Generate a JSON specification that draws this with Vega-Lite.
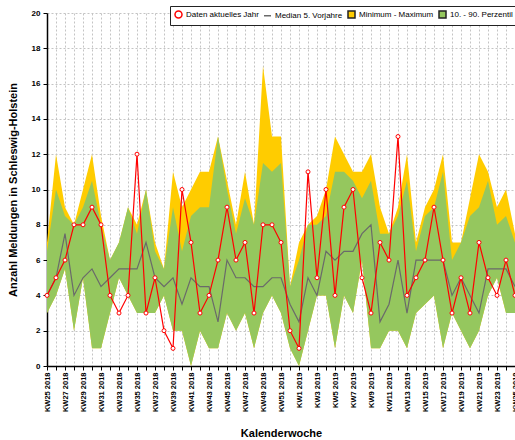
{
  "$schema": "https://vega.github.io/schema/vega-lite/v6.json",
  "width": 468,
  "height": 353,
  "autosize": "none",
  "padding": {"left": 47, "top": 13, "right": 0, "bottom": 74},
  "background": "white",
  "config": {"view": {"stroke": null}, "font": "Liberation Sans"},
  "data": {"values": [
    {"week": "KW25 2018", "current": 4, "median": 4, "min": 3, "p10": 3, "p90": 6.5, "max": 7},
    {"week": "KW26 2018", "current": 5, "median": 5, "min": 4, "p10": 4, "p90": 10, "max": 12},
    {"week": "KW27 2018", "current": 6, "median": 7.5, "min": 5.5, "p10": 5.5, "p90": 8.5, "max": 9},
    {"week": "KW28 2018", "current": 8, "median": 4, "min": 2, "p10": 2, "p90": 8, "max": 8},
    {"week": "KW29 2018", "current": 8, "median": 5, "min": 5, "p10": 5, "p90": 9, "max": 10},
    {"week": "KW30 2018", "current": 9, "median": 5.5, "min": 1, "p10": 1, "p90": 10.5, "max": 12},
    {"week": "KW31 2018", "current": 8, "median": 4.5, "min": 1, "p10": 1, "p90": 8, "max": 8.5},
    {"week": "KW32 2018", "current": 4, "median": 5, "min": 3, "p10": 3, "p90": 6, "max": 6},
    {"week": "KW33 2018", "current": 3, "median": 5.5, "min": 5, "p10": 5, "p90": 7, "max": 7},
    {"week": "KW34 2018", "current": 4, "median": 5.5, "min": 4, "p10": 4, "p90": 9, "max": 9},
    {"week": "KW35 2018", "current": 12, "median": 5.5, "min": 3, "p10": 3, "p90": 7.5, "max": 8},
    {"week": "KW36 2018", "current": 3, "median": 7, "min": 3, "p10": 3, "p90": 10, "max": 10},
    {"week": "KW37 2018", "current": 5, "median": 5, "min": 3, "p10": 3, "p90": 6.5, "max": 7},
    {"week": "KW38 2018", "current": 2, "median": 4.5, "min": 4, "p10": 4, "p90": 5.5, "max": 5.5},
    {"week": "KW39 2018", "current": 1, "median": 5, "min": 2, "p10": 2, "p90": 9, "max": 11},
    {"week": "KW40 2018", "current": 10, "median": 3.5, "min": 2, "p10": 2, "p90": 6.5, "max": 9},
    {"week": "KW41 2018", "current": 7, "median": 5, "min": 0, "p10": 0, "p90": 8.5, "max": 10},
    {"week": "KW42 2018", "current": 3, "median": 4.5, "min": 2, "p10": 2, "p90": 9, "max": 11},
    {"week": "KW43 2018", "current": 4, "median": 4.5, "min": 1, "p10": 1, "p90": 9, "max": 11},
    {"week": "KW44 2018", "current": 6, "median": 2.5, "min": 1, "p10": 1, "p90": 13, "max": 13},
    {"week": "KW45 2018", "current": 9, "median": 6, "min": 3, "p10": 3, "p90": 10, "max": 10.5},
    {"week": "KW46 2018", "current": 6, "median": 5, "min": 2, "p10": 2, "p90": 7.5, "max": 8},
    {"week": "KW47 2018", "current": 7, "median": 5, "min": 3, "p10": 3, "p90": 9.5, "max": 11},
    {"week": "KW48 2018", "current": 3, "median": 4.5, "min": 1, "p10": 1, "p90": 8, "max": 8},
    {"week": "KW49 2018", "current": 8, "median": 4.5, "min": 3, "p10": 3, "p90": 11.5, "max": 17},
    {"week": "KW50 2018", "current": 8, "median": 5, "min": 4, "p10": 4, "p90": 11, "max": 13},
    {"week": "KW51 2018", "current": 7, "median": 5, "min": 3, "p10": 3, "p90": 11.5, "max": 13},
    {"week": "KW52 2018", "current": 2, "median": 3.5, "min": 1, "p10": 1, "p90": 4.5, "max": 4.5},
    {"week": "KW1 2019", "current": 1, "median": 2.5, "min": 0, "p10": 0, "p90": 6, "max": 7},
    {"week": "KW2 2019", "current": 11, "median": 5, "min": 2, "p10": 2, "p90": 8, "max": 8},
    {"week": "KW3 2019", "current": 5, "median": 4, "min": 4, "p10": 4, "p90": 8, "max": 8.5},
    {"week": "KW4 2019", "current": 10, "median": 6.5, "min": 4, "p10": 4, "p90": 8.5, "max": 10},
    {"week": "KW5 2019", "current": 4, "median": 6, "min": 1, "p10": 1, "p90": 11, "max": 13},
    {"week": "KW6 2019", "current": 9, "median": 6.5, "min": 4, "p10": 4, "p90": 11, "max": 12},
    {"week": "KW7 2019", "current": 10, "median": 6.5, "min": 3, "p10": 3, "p90": 10.5, "max": 11},
    {"week": "KW8 2019", "current": 5, "median": 7.5, "min": 6, "p10": 6, "p90": 9.5, "max": 11},
    {"week": "KW9 2019", "current": 3, "median": 8, "min": 1, "p10": 1, "p90": 10.5, "max": 12},
    {"week": "KW10 2019", "current": 7, "median": 2.5, "min": 1, "p10": 1, "p90": 7.5, "max": 9},
    {"week": "KW11 2019", "current": 6, "median": 3.5, "min": 2, "p10": 2, "p90": 7.5, "max": 7.5},
    {"week": "KW12 2019", "current": 13, "median": 6, "min": 2, "p10": 2, "p90": 8.5, "max": 9},
    {"week": "KW13 2019", "current": 4, "median": 3, "min": 1, "p10": 1, "p90": 10.5, "max": 12},
    {"week": "KW14 2019", "current": 5, "median": 6, "min": 3, "p10": 3, "p90": 6.5, "max": 7},
    {"week": "KW15 2019", "current": 6, "median": 6, "min": 3.5, "p10": 3.5, "p90": 8.5, "max": 9},
    {"week": "KW16 2019", "current": 9, "median": 6, "min": 4, "p10": 4, "p90": 9, "max": 10},
    {"week": "KW17 2019", "current": 6, "median": 6, "min": 1, "p10": 1, "p90": 11, "max": 12},
    {"week": "KW18 2019", "current": 3, "median": 4, "min": 3, "p10": 3, "p90": 6, "max": 7},
    {"week": "KW19 2019", "current": 5, "median": 5, "min": 2, "p10": 2, "p90": 7, "max": 7},
    {"week": "KW20 2019", "current": 3, "median": 4, "min": 1, "p10": 1, "p90": 8.5, "max": 9.5},
    {"week": "KW21 2019", "current": 7, "median": 3, "min": 2, "p10": 2, "p90": 9, "max": 12},
    {"week": "KW22 2019", "current": 5, "median": 5.5, "min": 4, "p10": 4, "p90": 10.5, "max": 11},
    {"week": "KW23 2019", "current": 4, "median": 5.5, "min": 5, "p10": 5, "p90": 8, "max": 9},
    {"week": "KW24 2019", "current": 6, "median": 5.5, "min": 3, "p10": 3, "p90": 8.5, "max": 10},
    {"week": "KW25 2019", "current": 4, "median": 4.5, "min": 3, "p10": 3, "p90": 7, "max": 7.5}
  ]},
  "encoding": {
    "x": {
      "field": "week", "type": "ordinal", "sort": null,
      "scale": {"type": "point", "padding": 0},
      "axis": {
        "title": "Kalenderwoche", "titleFont": "Liberation Sans", "titleFontSize": 11, "titleFontWeight": "bold", "titleColor": "black", "titlePadding": 16,
        "labelAngle": -90, "labelFont": "Liberation Sans", "labelFontSize": 7.5, "labelFontWeight": "bold", "labelColor": "black", "labelPadding": 2,
        "labelOverlap": false,
        "labelExpr": "(toNumber(substring(datum.value, 2, indexof(datum.value, ' '))) % 2 == 1) ? datum.value : ''",
        "grid": true, "gridColor": "#c4c4c4", "gridDash": [2, 2], "gridWidth": 1,
        "domainColor": "black", "domainWidth": 1.5, "tickColor": "black", "tickSize": 4, "tickWidth": 1
      }
    },
    "y": {
      "field": "min", "type": "quantitative",
      "scale": {"domain": [0, 20], "nice": false},
      "axis": {
        "title": "Anzahl Meldungen in Schleswig-Holstein", "titleFont": "Liberation Sans", "titleFontSize": 11, "titleFontWeight": "bold", "titleColor": "black", "titlePadding": 13,
        "values": [0, 2, 4, 6, 8, 10, 12, 14, 16, 18, 20], "labelOverlap": false,
        "labelFont": "Liberation Sans", "labelFontSize": 8, "labelFontWeight": "bold", "labelColor": "black", "labelPadding": 3,
        "grid": true, "gridColor": "#c4c4c4", "gridDash": [2, 2], "gridWidth": 1,
        "domainColor": "black", "domainWidth": 1.5, "tickColor": "black", "tickSize": 4
      }
    }
  },
  "layer": [
    {
      "mark": {"type": "area", "color": "#ffcc00", "opacity": 1},
      "encoding": {
        "y2": {"field": "max"}
      }
    },
    {
      "mark": {"type": "area", "color": "#95c75e", "opacity": 1},
      "encoding": {
        "y": {"field": "p10", "type": "quantitative"},
        "y2": {"field": "p90"}
      }
    },
    {
      "mark": {"type": "line", "color": "#6a6a6a", "strokeWidth": 1.2},
      "encoding": {
        "y": {"field": "median", "type": "quantitative"}
      }
    },
    {
      "mark": {"type": "line", "color": "#ff0000", "strokeWidth": 1.2},
      "encoding": {
        "y": {"field": "current", "type": "quantitative"}
      }
    },
    {
      "mark": {"type": "point", "filled": true, "strokeWidth": 1, "size": 16, "opacity": 1},
      "encoding": {
        "y": {"field": "current", "type": "quantitative"},
        "fill": {
          "datum": "Daten aktuelles Jahr",
          "scale": {
            "domain": ["Daten aktuelles Jahr", "Median 5. Vorjahre", "Minimum - Maximum", "10. - 90. Perzentil"],
            "range": ["#ffffff", "#ffffff", "#ffcc00", "#95c75e"]
          },
          "legend": {
            "title": null, "orient": "none", "legendX": 123, "legendY": -7,
            "direction": "horizontal", "columns": 4,
            "fillColor": "white", "strokeColor": "#222222", "padding": 4,
            "labelFont": "Liberation Sans", "labelFontSize": 8, "labelColor": "black", "labelOffset": 3,
            "symbolSize": 49, "columnPadding": 2, "symbolStrokeWidth": 1.5, "symbolOpacity": 1
          }
        },
        "stroke": {
          "datum": "Daten aktuelles Jahr",
          "scale": {
            "domain": ["Daten aktuelles Jahr", "Median 5. Vorjahre", "Minimum - Maximum", "10. - 90. Perzentil"],
            "range": ["#ff0000", "#6a6a6a", "#222222", "#222222"]
          },
          "legend": {
            "title": null, "orient": "none", "legendX": 123, "legendY": -7,
            "direction": "horizontal", "columns": 4,
            "fillColor": "white", "strokeColor": "#222222", "padding": 4,
            "labelFont": "Liberation Sans", "labelFontSize": 8, "labelColor": "black", "labelOffset": 3,
            "symbolSize": 49, "columnPadding": 2, "symbolStrokeWidth": 1.5, "symbolOpacity": 1
          }
        },
        "shape": {
          "datum": "Daten aktuelles Jahr",
          "scale": {
            "domain": ["Daten aktuelles Jahr", "Median 5. Vorjahre", "Minimum - Maximum", "10. - 90. Perzentil"],
            "range": ["circle", "stroke", "square", "square"]
          },
          "legend": {
            "title": null, "orient": "none", "legendX": 123, "legendY": -7,
            "direction": "horizontal", "columns": 4,
            "fillColor": "white", "strokeColor": "#222222", "padding": 4,
            "labelFont": "Liberation Sans", "labelFontSize": 8, "labelColor": "black", "labelOffset": 3,
            "symbolSize": 49, "columnPadding": 2, "symbolStrokeWidth": 1.5, "symbolOpacity": 1
          }
        }
      }
    }
  ]
}
